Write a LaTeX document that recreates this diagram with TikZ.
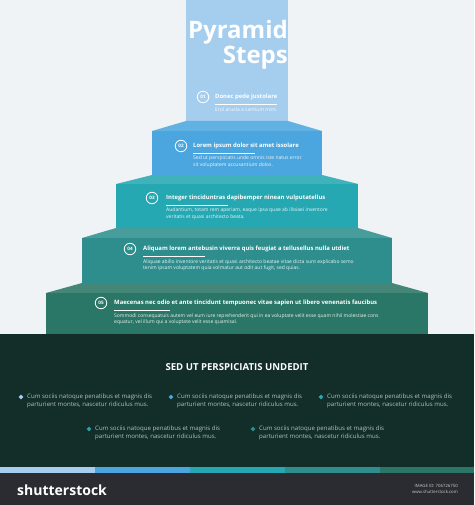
\documentclass[tikz,border=0pt]{standalone}
\usepackage{fontspec}
\setmainfont{Open Sans}
\usetikzlibrary{positioning,shapes.geometric}

\definecolor{pagebg}{HTML}{F0F3F5}
\definecolor{stepa}{HTML}{A5CDEE}
\definecolor{stepb}{HTML}{4BA6DF}
\definecolor{stepc}{HTML}{26A8B3}
\definecolor{stepd}{HTML}{2E8E8E}
\definecolor{stepe}{HTML}{2B7767}
\definecolor{darkband}{HTML}{132D29}
\definecolor{footbar}{HTML}{2A2C31}
\definecolor{listtext}{HTML}{B4C3C0}

\begin{document}
\begin{tikzpicture}[
            x=1pt, y=-1pt,
            num/.style={circle, draw=white, line width=0.8pt, text=white, inner sep=0pt, minimum size=11.5pt, font=\bfseries\fontsize{4.6}{5}\selectfont},
            head/.style={anchor=west, inner sep=0pt, text=white, font=\bfseries\fontsize{5.9}{6}\selectfont},
            body/.style={anchor=north west, inner sep=0pt, align=left, text=white!90!stepb, font=\fontsize{5}{6.2}\selectfont},
            uline/.style={white, line width=0.5pt},
            bullet/.style={diamond, inner sep=0pt, minimum size=5pt},
            item/.style={anchor=north west, inner sep=0pt, align=left, text=listtext, font=\fontsize{6.1}{8}\selectfont}
        ]
        \useasboundingbox (0,0) rectangle (474,505);
        \fill[pagebg] (0,0) rectangle (474,334);

        % the steps, top to bottom
        \fill[stepa] (186,0) rectangle (288,121);
        \fill[stepb!88!white] (186,121) -- (288,121) -- (322,131) -- (152,131) -- cycle;
        \fill[stepb] (152,131) rectangle (322,175);
        \fill[stepc!88!white] (152,175) -- (322,175) -- (358,184) -- (116,184) -- cycle;
        \fill[stepc] (116,184) rectangle (358,228);
        \fill[stepd!88!white] (116,228) -- (358,228) -- (392,238) -- (82,238) -- cycle;
        \fill[stepd] (82,238) rectangle (392,283);
        \fill[stepe!88!white] (82,283) -- (392,283) -- (428,293) -- (46,293) -- cycle;
        \fill[stepe] (46,293) rectangle (428,334);

        \node[anchor=base east, inner sep=0pt, text=white, font=\bfseries\fontsize{24}{24}\selectfont] (title1) at (288,39) {Pyramid};
        \node[anchor=base east, inner sep=0pt, text=white, font=\bfseries\fontsize{24}{24}\selectfont] (title2) at (288,64) {Steps};

        % step 01
        \node[num] (n1) at (203,97) {01};
        \node[head] (h1) at (215,97) {Donec pede justolare};
        \draw[uline] (215,104.5) -- ++(62,0);
        \node[body, text=white!92!stepa] (t1) at (215,108) {Erol arusla a santium mint.};

        % step 02
        \node[num] (n2) at (181,146) {02};
        \node[head] (h2) at (193,146) {Lorem ipsum dolor sit amet issolare};
        \draw[uline] (193,153) -- ++(62,0);
        \node[body] (t2) at (193,156) {Sed ut perspiciatis unde omnis iste natus error\\sit voluptatem accusantium dolos.};

        % step 03
        \node[num] (n3) at (152,198) {03};
        \node[head] (h3) at (166,198) {Integer tinciduntras dapibemper ninean vulputatellus};
        \draw[uline] (166,205) -- ++(62,0);
        \node[body, text=white!90!stepc] (t3) at (166,208) {Audantium, totam rem aperiam, eaque ipsa quae ab illoiaei inventore\\veritatis et quasi architecto beata.};

        % step 04
        \node[num] (n4) at (130,249) {04};
        \node[head] (h4) at (143,249) {Aliquam lorem antebusin viverra quis feugiat a tellusellus nulla utdiet};
        \draw[uline] (143,256.5) -- ++(62,0);
        \node[body, text=white!90!stepd] (t4) at (143,259.5) {Aliquae abillo inventore veritatis et quasi architecto beatae vitae dicta sunt explicabo semo\\tenim ipsam voluptatem quia volmatur aut odit aut fugit, sed quias.};

        % step 05
        \node[num] (n5) at (101,303) {05};
        \node[head] (h5) at (114,303) {Maecenas nec odio et ante tincidunt tempuonec vitae sapien ut libero venenatis faucibus};
        \draw[uline] (114,310.5) -- ++(56,0);
        \node[body, text=white!90!stepe] (t5) at (114,313.5) {Sommodi consequatuis autem vel eum iure reprehenderit qui in ea voluptate velit esse quam nihil molestiae cons\\equatur, vel illum qui a voluptate velit esse quamisal.};

        % dark band with the list
        \fill[darkband] (0,334) rectangle (474,467);
        \node[text=white, font=\bfseries\fontsize{9.6}{10}\selectfont, inner sep=0pt] (band) at (237,367) {SED UT PERSPICIATIS UNDEDIT};

        \node[bullet, fill=stepa] (d1) at (21,397) {};
        \node[item] (i1) at (27,393.5) {Cum sociis natoque penatibus et magnis dis\\parturient montes, nascetur ridiculus mus.};
        \node[bullet, fill=stepb] (d2) at (171,397) {};
        \node[item] (i2) at (177,393.5) {Cum sociis natoque penatibus et magnis dis\\parturient montes, nascetur ridiculus mus.};
        \node[bullet, fill=stepc] (d3) at (321,397) {};
        \node[item] (i3) at (327,393.5) {Cum sociis natoque penatibus et magnis dis\\parturient montes, nascetur ridiculus mus.};
        \node[bullet, fill=stepc!70!stepd] (d4) at (89,429) {};
        \node[item] (i4) at (95,425.5) {Cum sociis natoque penatibus et magnis dis\\parturient montes, nascetur ridiculus mus.};
        \node[bullet, fill=stepd] (d5) at (253,429) {};
        \node[item] (i5) at (259,425.5) {Cum sociis natoque penatibus et magnis dis\\parturient montes, nascetur ridiculus mus.};

        % colour strip and footer
        \fill[stepa] (0,467) rectangle (95,473);
        \fill[stepb] (95,467) rectangle (190,473);
        \fill[stepc] (190,467) rectangle (285,473);
        \fill[stepd] (285,467) rectangle (380,473);
        \fill[stepe] (380,467) rectangle (474,473);
        \fill[footbar] (0,473) rectangle (474,505);
        \node[anchor=west, inner sep=0pt, text=white, font=\bfseries\fontsize{14}{14}\selectfont] (logo) at (17,490) {shutterstock};
        \node[anchor=east, inner sep=0pt, text=white!75!footbar, font=\fontsize{4.3}{6}\selectfont, align=right] (imgid) at (458,489) {IMAGE ID: 706726750\\www.shutterstock.com};
        \end{tikzpicture}
\end{document}
